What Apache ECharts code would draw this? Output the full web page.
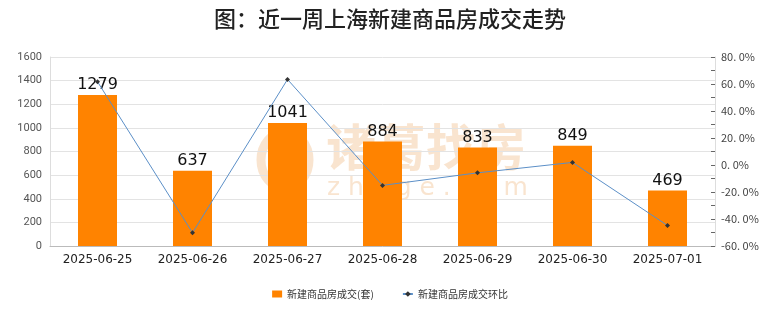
<!DOCTYPE html>
<html><head><meta charset="utf-8">
<script src="https://cdn.jsdelivr.net/npm/echarts@6/dist/echarts.min.js"></script>
<style>html,body{margin:0;padding:0;background:#fff}#c{width:780px;height:328px}</style>
</head><body><div id="c"></div>
<script>
const categories = ['2025-06-25','2025-06-26','2025-06-27','2025-06-28','2025-06-29','2025-06-30','2025-07-01'];
const deals = [1279, 637, 1041, 884, 833, 849, 469];
const ratio = [61.7, -50.2, 63.4, -15.1, -5.8, 1.9, -44.8];
const leftTicks = [0, 1600, 200];
const rightTicks = [-60, 80, 20];

const wm = 'rgba(240,190,140,0.42)';
const chart = echarts.init(document.getElementById('c'));
chart.setOption({
  animation: false,
  title: {text: '图：近一周上海新建商品房成交走势', left: 'center', top: 3,
    textStyle: {fontSize: 22, fontWeight: 500, color: '#222', fontFamily: 'Noto Sans CJK SC'}},
  graphic: [
    {type: 'ellipse', shape: {cx: 285, cy: 160, rx: 24, ry: 28}, style: {fill: 'none', stroke: wm, lineWidth: 9}, z: -10},
    {type: 'text', left: 326, top: 122, style: {text: '诸葛找房', fontSize: 50, fontWeight: 'bold', fill: wm, fontFamily: 'Noto Sans CJK SC'}, z: -10},
    {type: 'text', left: 327, top: 176, style: {text: 'z h u g e . c o m', fontSize: 25, fill: wm, fontFamily: 'DejaVu Sans', letterSpacing: 3}, z: -10}
  ],
  legend: {bottom: 24, left: 'center', itemGap: 28, itemWidth: 10, itemHeight: 7,
    textStyle: {fontSize: 10, color: '#333', fontFamily: 'Noto Sans CJK SC'},
    data: [{name: '新建商品房成交(套)', icon: 'rect'}, {name: '新建商品房成交环比'}]},
  grid: {left: 50, right: 65, top: 57, bottom: 82},
  xAxis: {type: 'category', data: categories,
    axisLine: {lineStyle: {color: '#bbb'}}, axisTick: {show: false},
    axisLabel: {fontSize: 12, color: '#222', fontFamily: 'DejaVu Sans', margin: 8}},
  yAxis: [
    {type: 'value', min: leftTicks[0], max: leftTicks[1], interval: leftTicks[2],
      axisLine: {show: true, lineStyle: {color: '#ddd'}}, axisTick: {show: false},
      splitLine: {lineStyle: {color: '#e3e3e3'}},
      axisLabel: {fontSize: 11, color: '#555', fontFamily: 'Roboto', margin: 8, formatter: v => String(v)}},
    {type: 'value', min: rightTicks[0], max: rightTicks[1], interval: rightTicks[2],
      axisLine: {show: true, lineStyle: {color: '#ddd'}},
      axisTick: {show: true, inside: true, length: 4, lineStyle: {color: '#666'}},
      minorTick: {show: true, splitNumber: 2, length: 4, lineStyle: {color: '#666'}},
      splitLine: {show: false},
      axisLabel: {fontSize: 11, color: '#444', fontFamily: 'Noto Sans CJK SC', margin: 6,
        formatter: v => v.toFixed(1).replace('.', '. ') + '%'}}
  ],
  series: [
    {name: '新建商品房成交(套)', type: 'bar', data: deals, barWidth: 39, itemStyle: {color: '#FF8300'}, z: 2,
      label: {show: true, position: 'top', distance: 2, fontSize: 16, color: '#111', fontFamily: 'DejaVu Sans'}},
    {name: '新建商品房成交环比', type: 'line', yAxisIndex: 1, data: ratio, z: 3,
      lineStyle: {color: '#5B8FC7', width: 1}, itemStyle: {color: '#333'},
      symbol: 'diamond', symbolSize: 5}
  ]
});
</script></body></html>
